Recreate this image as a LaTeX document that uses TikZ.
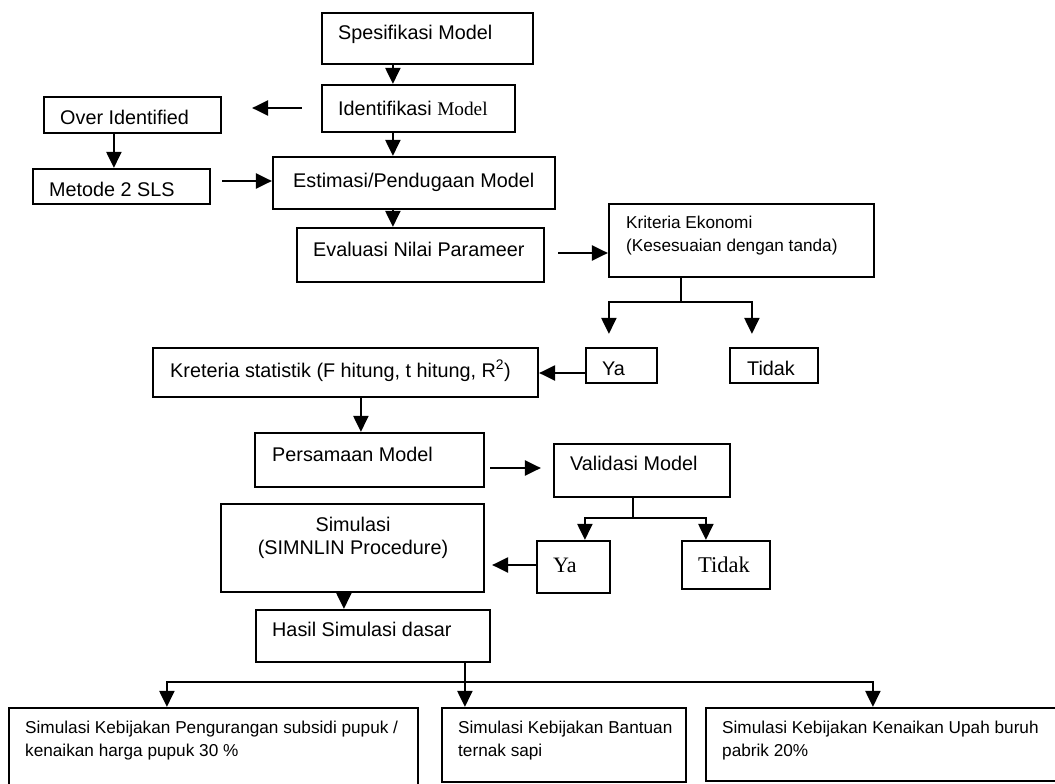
\documentclass[tikz,border=0pt]{standalone}
\usepackage{fontspec}
\setmainfont{Liberation Sans}
\newfontfamily\tms{Liberation Serif}
\usetikzlibrary{arrows.meta,fit}
\begin{document}
\begin{tikzpicture}[x=1pt,y=-1pt,
  bx/.style={draw, line width=2.2pt, inner sep=0pt},
  arr/.style={line width=2.2pt, -{Triangle[length=16pt,width=15pt]}},
  txt/.style={anchor=base west, inner sep=0pt, font=\fontsize{19.8}{23}\selectfont},
  stxt/.style={anchor=base west, inner sep=0pt, align=left, font=\fontsize{17.2}{22.5}\selectfont},
]
\useasboundingbox (0,0) rectangle (1055,784);

% boxes
\node[bx, fit={(322,13) (533,64)}] (spec) {};
\node[bx, fit={(322,85) (515,132)}] (ident) {};
\node[bx, fit={(44,97) (221,133)}] (over) {};
\node[bx, fit={(33,169) (210,204)}] (metode) {};
\node[bx, fit={(273,157) (555,209)}] (estim) {};
\node[bx, fit={(297,228) (544,282)}] (eval) {};
\node[bx, fit={(609,204) (874,277)}] (krit) {};
\node[bx, fit={(586,348) (657,383)}] (ya1) {};
\node[bx, fit={(730,348) (818,383)}] (tidak1) {};
\node[bx, fit={(153,348) (538,397)}] (kstat) {};
\node[bx, fit={(255,433) (484,487)}] (pers) {};
\node[bx, fit={(554,444) (730,497)}] (valid) {};
\node[bx, fit={(537,541) (610,593)}] (ya2) {};
\node[bx, fit={(682,541) (770,589)}] (tidak2) {};
\node[bx, fit={(221,504) (484,592)}] (simul) {};
\node[bx, fit={(256,610) (490,662)}] (hasil) {};
\node[bx, fit={(9,708) (418,790)}] (b1) {};
\node[bx, fit={(442,708) (686,782)}] (b2) {};
\node[bx, fit={(706,708) (1058,781)}] (b3) {};

% texts
\node[txt] (tspec) at (338,40) {Spesifikasi Model};
\node[txt] (tident) at (338,115) {Identifikasi {\tms\fontsize{19.3}{23}\selectfont Model}};
\node[txt] (tover) at (60,124) {Over Identified};
\node[txt] (tmetode) at (49,196) {Metode 2 SLS};
\node[txt] (testim) at (293,187) {Estimasi/Pendugaan Model};
\node[txt] (teval) at (313,256) {Evaluasi Nilai Parameer};
\node[stxt] (tkrit) at (626,251) {Kriteria Ekonomi\\(Kesesuaian dengan tanda)};
\node[txt] (tya1) at (602,375) {Ya};
\node[txt] (ttidak1) at (747,375) {Tidak};
\node[txt] (tkstat) at (170,377) {Kreteria statistik (F hitung, t hitung, R\textsuperscript{2})};
\node[txt] (tpers) at (272,461) {Persamaan Model};
\node[txt] (tvalid) at (570,470) {Validasi Model};
\node[txt, font=\tms\fontsize{22}{26}\selectfont] (tya2) at (553,572) {Ya};
\node[txt, font=\tms\fontsize{22.5}{26}\selectfont] (ttidak2) at (698,572) {Tidak};
\node[txt, anchor=base, align=center] (tsimul) at (353,554) {Simulasi\\(SIMNLIN Procedure)};
\node[txt] (thasil) at (272,636) {Hasil Simulasi dasar};
\node[stxt] (tb1) at (25,756) {Simulasi Kebijakan Pengurangan subsidi pupuk /\\kenaikan harga pupuk 30 \%};
\node[stxt] (tb2) at (458,756) {Simulasi Kebijakan Bantuan\\ternak sapi};
\node[stxt] (tb3) at (722,756) {Simulasi Kebijakan Kenaikan Upah buruh\\pabrik 20\%};

% connectors
\draw[arr] ([xshift=72pt]spec.south west) -- ([xshift=72pt]ident.north west);
\draw[arr] ([xshift=72pt]ident.south west) -- ([xshift=121pt]estim.north west);
\draw[arr] ([xshift=-19pt,yshift=0.5pt]ident.west) -- ([xshift=30pt,yshift=7pt]over.east);
\draw[arr] ([xshift=71pt]over.south west) -- ([xshift=82pt]metode.north west);
\draw[arr] ([xshift=11pt,yshift=5.5pt]metode.east) -- ([yshift=2pt]estim.west);
\draw[arr] ([xshift=121pt]estim.south west) -- ([xshift=97pt]eval.north west);
\draw[arr] ([xshift=13pt,yshift=2pt]eval.east) -- ([yshift=-12.5pt]krit.west);
\draw[arr] ([xshift=73pt]krit.south west) -- ++(0,24) -| ([xshift=24pt,yshift=13pt]ya1.north west);
\draw[arr] ([xshift=73pt]krit.south west) -- ++(0,24) -| ([xshift=23pt,yshift=13pt]tidak1.north west);
\draw[arr] ([yshift=-7.5pt]ya1.west) -- ([yshift=-0.5pt]kstat.east);
\draw[arr] ([xshift=209pt]kstat.south west) -- ([xshift=107pt]pers.north west);
\draw[arr] ([xshift=5pt,yshift=-8pt]pers.east) -- ([xshift=-12pt,yshift=2.5pt]valid.west);
\draw[arr] ([xshift=80pt]valid.south west) -- ++(0,20) -| ([xshift=49pt]ya2.north west);
\draw[arr] ([xshift=80pt]valid.south west) -- ++(0,20) -| ([xshift=25pt]tidak2.north west);
\draw[arr] ([yshift=2pt]ya2.west) -- ([xshift=7pt,yshift=-17pt]simul.east);
\draw[arr] ([xshift=124pt]simul.south west) -- ([xshift=89pt]hasil.north west);
\draw[arr] ([xshift=210pt]hasil.south west) -- ++(0,19) -| ([xshift=159pt]b1.north west);
\draw[arr] ([xshift=210pt]hasil.south west) -- ([xshift=24pt]b2.north west);
\draw[arr] ([xshift=210pt]hasil.south west) -- ++(0,19) -| ([xshift=168pt]b3.north west);
\end{tikzpicture}
\end{document}
